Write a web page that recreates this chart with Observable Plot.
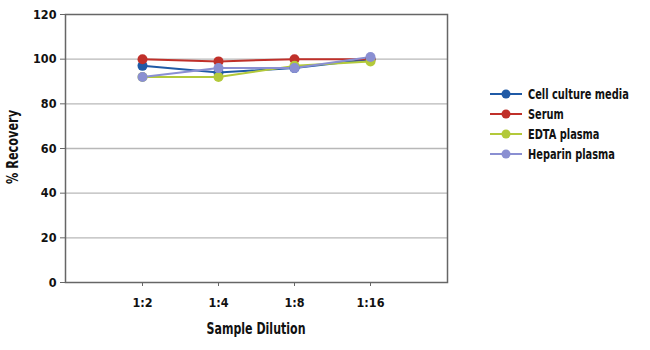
<!DOCTYPE html>
<html>
<head>
<meta charset="utf-8">
<script src="https://cdn.jsdelivr.net/npm/d3@7"></script>
<script src="https://cdn.jsdelivr.net/npm/@observablehq/plot@0.6"></script>
<style>
  body { margin: 0; background: #fff; }
  #wrap { position: relative; width: 650px; height: 350px; font-family: "DejaVu Sans Condensed", "DejaVu Sans", sans-serif; font-stretch: condensed; }
  #wrap svg text { font-stretch: condensed; }
  #legend { position: absolute; left: 490px; top: 84px; font-weight: bold; font-size: 14px; color: #111; font-stretch: condensed; }
  #legend .row { display: flex; align-items: center; height: 20px; white-space: nowrap; }
  #legend svg { margin-right: 6px; }
  #legend span { display: inline-block; transform: scaleX(0.78); transform-origin: left center; }
</style>
</head>
<body>
<div id="wrap"></div>
<script>
const dilutions = ["1:2", "1:4", "1:8", "1:16"];
const seriesNames = ["Cell culture media", "Serum", "EDTA plasma", "Heparin plasma"];
const seriesColors = ["#1f5aa6", "#c0302a", "#b3c93a", "#8a8fd2"];
const cellCulture = [97, 94, 96, 100];
const serum = [100, 99, 100, 100];
const edta = [92, 92, 97, 99];
const heparin = [92, 96, 96, 101];
const yTicks = [0, 20, 40, 60, 80, 100, 120];

const allValues = [cellCulture, serum, edta, heparin];
const data = [];
seriesNames.forEach((s, i) => dilutions.forEach((d, j) => data.push({series: s, dilution: d, value: allValues[i][j]})));

const font = `"DejaVu Sans Condensed", "DejaVu Sans", sans-serif`;

const chart = Plot.plot({
  width: 650,
  height: 350,
  marginLeft: 65,
  marginRight: 203,
  marginTop: 14,
  marginBottom: 68,
  style: {fontFamily: font, fontSize: "12px", fontWeight: "bold", color: "#111"},
  x: {type: "point", domain: dilutions, padding: 1, label: null},
  y: {domain: [0, 120], label: null},
  color: {domain: seriesNames, range: seriesColors},
  marks: [
    Plot.ruleY(yTicks.filter(t => t > 0 && t < 120), {stroke: "#b8b8b8", strokeWidth: 1.3}),
    Plot.frame({stroke: "#666", strokeWidth: 1.5}),
    Plot.axisY(yTicks, {tickSize: 5, tickPadding: 4, stroke: "#666", fontSize: 12.5, label: null}),
    Plot.axisX(dilutions, {tickSize: 4, tickPadding: 12, stroke: "#666", fontSize: 12.5, label: null}),
    Plot.line(data, {x: "dilution", y: "value", z: "series", stroke: "series", strokeWidth: 2}),
    Plot.dot(data, {x: "dilution", y: "value", fill: "series", r: 5})
  ]
});

const wrap = document.getElementById("wrap");
wrap.appendChild(chart);

const svg = d3.select(chart);
svg.append("text")
  .attr("transform", "translate(13,147) rotate(-90)")
  .attr("text-anchor", "middle")
  .attr("dominant-baseline", "middle")
  .attr("textLength", 74).attr("lengthAdjust", "spacingAndGlyphs")
  .style("font-size", "16.5px").style("font-weight", "bold").style("font-family", font)
  .attr("fill", "#111")
  .text("% Recovery");
svg.append("text")
  .attr("x", 256).attr("y", 329)
  .attr("text-anchor", "middle")
  .attr("dominant-baseline", "middle")
  .attr("textLength", 99).attr("lengthAdjust", "spacingAndGlyphs")
  .style("font-size", "16.5px").style("font-weight", "bold").style("font-family", font)
  .attr("fill", "#111")
  .text("Sample Dilution");

const legend = document.createElement("div");
legend.id = "legend";
seriesNames.forEach((s, i) => {
  const row = document.createElement("div");
  row.className = "row";
  row.innerHTML = `<svg width="32" height="12"><line x1="0" y1="6" x2="32" y2="6" stroke="${seriesColors[i]}" stroke-width="2"/><circle cx="16" cy="6" r="4.5" fill="${seriesColors[i]}"/></svg><span>${s}</span>`;
  legend.appendChild(row);
});
wrap.appendChild(legend);
</script>
</body>
</html>
